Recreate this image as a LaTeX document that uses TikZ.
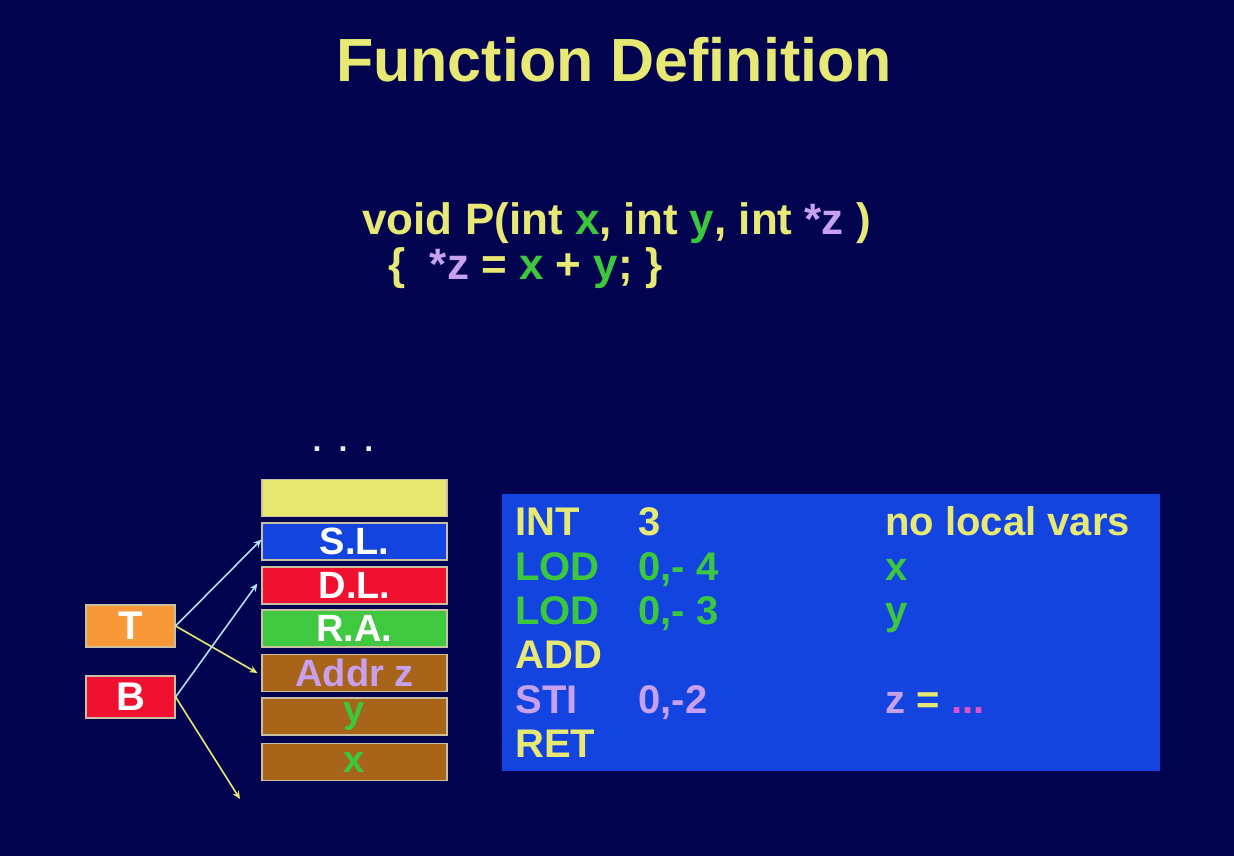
\documentclass[tikz,border=0pt]{standalone}
\usepackage{fontspec}
\setmainfont{Liberation Sans}
\usetikzlibrary{arrows.meta}
\definecolor{bgnavy}{HTML}{020450}
\definecolor{txtyellow}{HTML}{E8E874}
\definecolor{txtgreen}{HTML}{3CC83C}
\definecolor{txtlav}{HTML}{C8A0F0}
\definecolor{txtpink}{HTML}{E050C8}
\definecolor{slotyellow}{HTML}{E8E870}
\definecolor{slotblue}{HTML}{1444E0}
\definecolor{slotred}{HTML}{F01030}
\definecolor{slotgreen}{HTML}{40C840}
\definecolor{slotbrown}{HTML}{A86418}
\definecolor{regorange}{HTML}{F89838}
\definecolor{codeblue}{HTML}{1444E0}
\definecolor{linkblue}{HTML}{B0E0F0}
\definecolor{rimgray}{HTML}{C8C0A0}
\begin{document}
\begin{tikzpicture}[x=0.5pt,y=-0.5pt,
  slot/.style={draw=rimgray,line width=0.6pt,minimum width=92.5pt,minimum height=18.5pt,
    inner sep=0pt,font=\fontsize{19}{19}\selectfont\bfseries,text=white},
  reg/.style={draw=rimgray,line width=0.6pt,minimum width=44.5pt,minimum height=21pt,
    inner sep=0pt,font=\fontsize{20}{20}\selectfont\bfseries,text=white},
  codetxt/.style={anchor=base west,inner sep=0pt,font=\fontsize{22}{22}\selectfont\bfseries,text=txtyellow},
  asm/.style={anchor=base west,inner sep=0pt,font=\fontsize{20}{20}\selectfont\bfseries},
  link/.style={line width=0.8pt,-{Stealth[length=4pt,width=3.5pt]}}]
% background
\fill[bgnavy] (0,0) rectangle (1234,856);
\useasboundingbox (0,0) rectangle (1234,856);

% title
\node[anchor=base,inner sep=0pt,text=txtyellow,font=\fontsize{30.5}{30.5}\selectfont\bfseries]
  (title) at (614,82) {Function Definition};

% source code
\node[codetxt] (code1) at (362,234) {void P(int \textcolor{txtgreen}{x}, int \textcolor{txtgreen}{y}, int \textcolor{txtlav}{*z} )};
\node[codetxt] (code2) at (388,279) {\{\ \ \textcolor{txtlav}{*z} = \textcolor{txtgreen}{x} + \textcolor{txtgreen}{y}; \}};

% stack frame
\node[anchor=base,font=\fontsize{16}{16}\selectfont\bfseries,text=white!85!gray,inner sep=0pt]
  (dots) at (343,451) {.\hspace{8.5pt}.\hspace{8.5pt}.};
\node[slot,fill=slotyellow] (top) at (354.5,498) {};
\node[slot,fill=slotblue] (sl) at (354.5,541.5) {S.L.};
\node[slot,fill=slotred] (dl) at (354.5,585.5) {D.L.};
\node[slot,fill=slotgreen] (ra) at (354.5,628.5) {R.A.};
\node[slot,fill=slotbrown,text=txtlav] (az) at (354.5,673) {Addr z};
\node[slot,fill=slotbrown,text=txtgreen] (sy) at (354.5,716.5) {y};
\node[slot,fill=slotbrown,text=txtgreen] (sx) at (354.5,762) {x};

% registers
\node[reg,fill=regorange] (T) at (130.5,626) {T};
\node[reg,fill=slotred] (B) at (130.5,697) {B};
\coordinate (bend) at (240,799);

\draw[link,linkblue] (T.east) -- ([yshift=1pt]sl.west);
\draw[link,txtyellow] (T.east) -- ([xshift=-2pt]az.west);
\draw[link,linkblue] (B.east) -- ([xshift=-2pt,yshift=1pt]dl.west);
\draw[link,txtyellow] (B.east) -- (bend);

% generated code
\node[fill=codeblue,draw=none,minimum width=329pt,minimum height=138.5pt,inner sep=0pt] (asmbox) at (831,632.5) {};
\node[asm,text=txtyellow] (i1) at (515,535) {INT};
\node[asm,text=txtyellow] (a1) at (638,535) {3};
\node[asm,text=txtyellow] (c1) at (885,535) {no local vars};
\node[asm,text=txtgreen] (i2) at (515,580) {LOD};
\node[asm,text=txtgreen] (a2) at (638,580) {0,- 4};
\node[asm,text=txtgreen] (c2) at (885,580) {x};
\node[asm,text=txtgreen] (i3) at (515,624) {LOD};
\node[asm,text=txtgreen] (a3) at (638,624) {0,- 3};
\node[asm,text=txtgreen] (c3) at (885,624) {y};
\node[asm,text=txtyellow] (i4) at (515,668) {ADD};
\node[asm,text=txtlav] (i5) at (515,713) {STI};
\node[asm,text=txtlav] (a5) at (638,713) {0,-2};
\node[asm] (c5) at (885,713) {\textcolor{txtlav}{z} \textcolor{txtyellow}{=} \textcolor{txtpink}{...}};
\node[asm,text=txtyellow] (i6) at (515,757) {RET};
\end{tikzpicture}
\end{document}
